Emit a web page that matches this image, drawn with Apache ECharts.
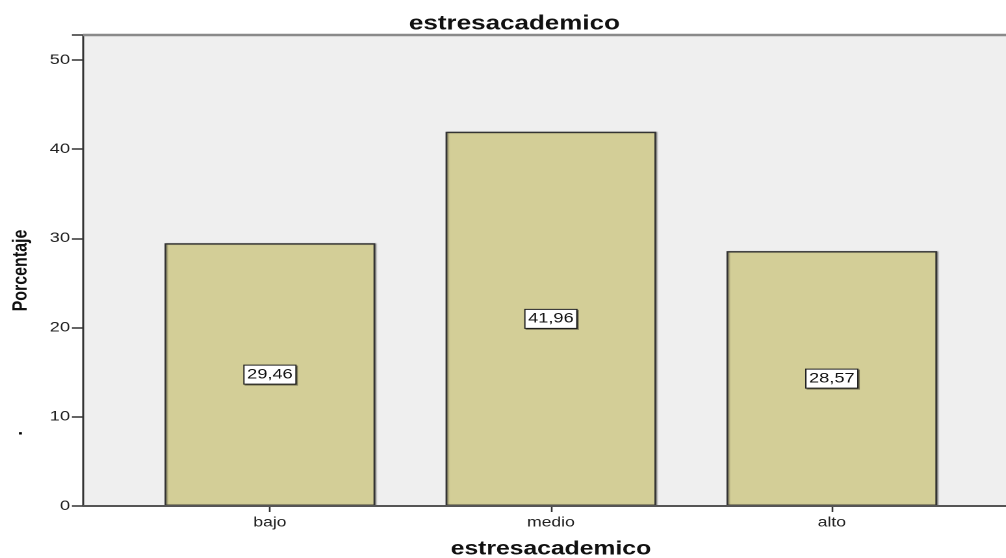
<!DOCTYPE html>
<html>
<head>
<meta charset="utf-8">
<script src="https://cdn.jsdelivr.net/npm/echarts@6/dist/echarts.min.js"></script>
<style>
  html, body { margin: 0; padding: 0; background: #ffffff; overflow: hidden; }
  /* the chart is laid out at 774px and widened to fill the 1006px page */
  #chart { width: 774px; height: 558px; transform: scaleX(1.2997); transform-origin: 0 0; }
</style>
</head>
<body>
<div id="chart"></div>
<script>
// Stress level categories and their percentages
const categories = ['bajo', 'medio', 'alto'];
const percentages = [29.46, 41.96, 28.57];
const yTicks = [0, 10, 20, 30, 40, 50];

const chartTitle = 'estresacademico';
const xTitle = 'estresacademico';
const yTitle = 'Porcentaje';

const chart = echarts.init(document.getElementById('chart'), null, { renderer: 'canvas', devicePixelRatio: 2 });

const font = 'Liberation Sans, Arial, sans-serif';
const plotLeft = 63.85;
const barLeft = 99.6;
const yMax = 52.8;

chart.setOption({
  animation: false,
  backgroundColor: '#ffffff',
  title: {
    text: chartTitle,
    left: 390.8,
    textAlign: 'center',
    top: 9,
    textStyle: { fontFamily: font, fontWeight: 'bold', fontSize: 20, color: '#111' }
  },
  grid: [
    // plot frame with the grey backdrop
    { left: plotLeft, right: -10, top: 35, bottom: 52, show: true, backgroundColor: '#efefef', borderWidth: 0, outerBoundsMode: 'none' },
    // bar area
    { left: barLeft, width: 648.5, top: 35, bottom: 52, outerBoundsMode: 'none' }
  ],
  xAxis: [
    { gridIndex: 0, type: 'value', min: 0, max: 1, show: false },
    {
      gridIndex: 1,
      type: 'category',
      data: categories,
      name: xTitle,
      nameLocation: 'middle',
      nameGap: 34,
      nameTextStyle: { fontFamily: font, fontWeight: 'bold', fontSize: 19, color: '#111' },
      axisLine: { show: false },
      axisTick: { show: true, alignWithLabel: true, length: 6, lineStyle: { color: '#333', width: 1.3 } },
      axisLabel: { margin: 10, fontFamily: font, fontSize: 13.5, color: '#222' }
    }
  ],
  yAxis: [
    { gridIndex: 0, type: 'value', min: 0, max: yMax, show: false },
    {
      gridIndex: 1,
      type: 'value',
      min: 0,
      max: yMax,
      interval: 10,
      offset: barLeft - plotLeft,
      name: yTitle,
      nameLocation: 'middle',
      nameGap: 40,
      nameTextStyle: { fontFamily: font, fontWeight: 'bold', fontSize: 16, color: '#111' },
      splitLine: { show: false },
      axisLine: { show: true, lineStyle: { color: '#333', width: 1.5 } },
      axisTick: { show: true, length: 8.5, lineStyle: { color: '#333', width: 1.5 } },
      axisLabel: {
        margin: 10,
        fontFamily: font,
        fontSize: 14,
        color: '#222',
        formatter: v => (yTicks.indexOf(v) >= 0 ? String(v) : '')
      }
    }
  ],
  graphic: [
    // top frame line
    { type: 'line', shape: { x1: plotLeft, y1: 35, x2: 780, y2: 35 }, style: { stroke: '#8a8a8a', lineWidth: 2.5 }, z: 5 },
    // baseline
    { type: 'line', shape: { x1: plotLeft, y1: 506, x2: 780, y2: 506 }, style: { stroke: '#555', lineWidth: 2 }, z: 5 },
    { type: 'text', left: 13.5, top: 422, style: { text: '.', font: 'bold 16px sans-serif', fill: '#000' } }
  ],
  series: [
    {
      type: 'bar',
      xAxisIndex: 1,
      yAxisIndex: 1,
      data: percentages,
      barWidth: '75%',
      itemStyle: {
        color: '#d3ce97',
        borderColor: '#333',
        borderWidth: 1.4,
        shadowColor: 'rgba(0,0,0,0.3)',
        shadowOffsetX: 1,
        shadowBlur: 1
      },
      label: {
        show: true,
        position: 'inside',
        formatter: p => p.value.toFixed(2).replace('.', ','),
        fontFamily: font,
        fontSize: 14,
        lineHeight: 16,
        color: '#111',
        backgroundColor: '#ffffff',
        borderColor: '#222',
        borderWidth: 1,
        padding: [1, 2, 1, 2],
        shadowColor: 'rgba(0,0,0,0.4)',
        shadowOffsetX: 1,
        shadowOffsetY: 1
      }
    }
  ]
});
</script>
</body>
</html>
